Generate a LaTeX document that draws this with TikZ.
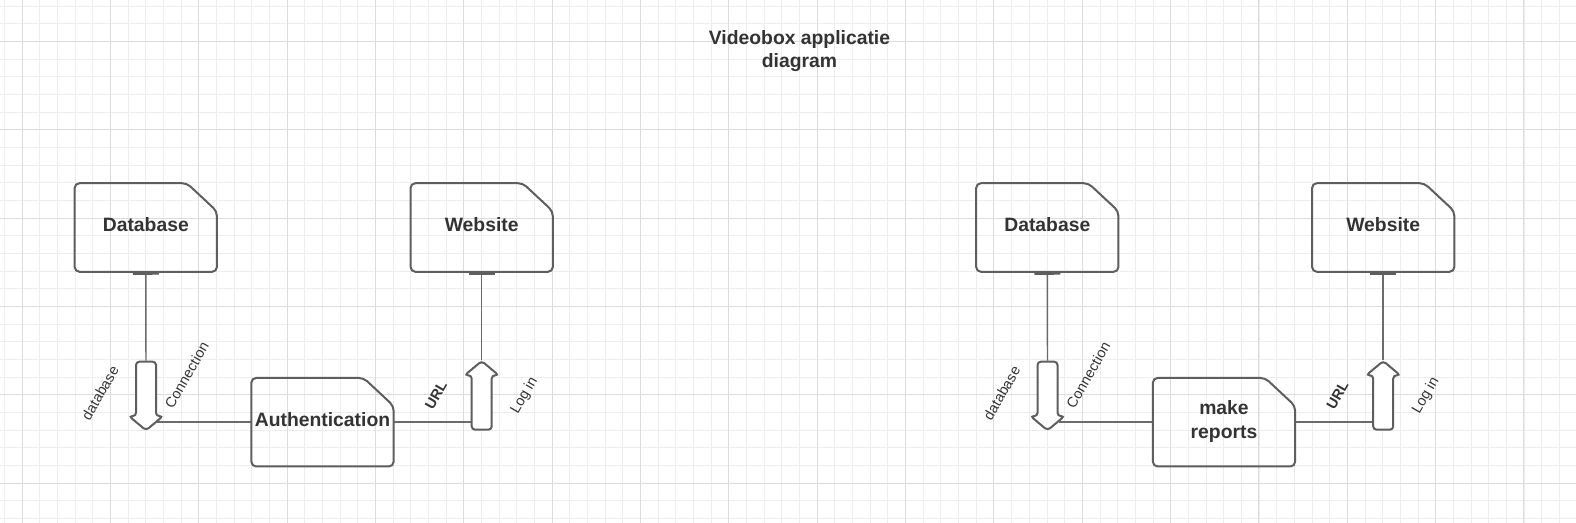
\documentclass[tikz,border=0pt]{standalone}
\usepackage{fontspec}
\setmainfont{Liberation Sans}
\usepackage{xcolor}
\usetikzlibrary{arrows.meta,shapes.arrows}
\definecolor{ink}{HTML}{333333}
\definecolor{edge}{HTML}{5E5E5E}
\definecolor{wirec}{HTML}{6B6B6B}
\definecolor{gridminor}{HTML}{EDEDED}
\definecolor{gridmajor}{HTML}{DCDCDC}
\pgfdeclarelayer{grid}
\pgfdeclarelayer{wires}
\pgfsetlayers{grid,wires,main}

\begin{document}
\begin{tikzpicture}[x=0.75pt,y=-0.75pt,>=Latex,
  page/.style={minimum width=106.25pt,minimum height=66pt,inner sep=0pt,align=center,text depth=4pt,text=ink,font=\fontsize{14.5}{17.5}\selectfont\bfseries,
    append after command={\pgfextra{\let\pagenode\tikzlastnode
      \draw[draw=edge,line width=1.5pt,rounded corners=3.5pt] (\pagenode.south west) -- (\pagenode.north west) -- ([xshift=-22.5pt]\pagenode.north east) -- ([yshift=-21pt]\pagenode.north east) -- (\pagenode.south east) -- cycle;}}},
  flow/.style={single arrow,draw=edge,fill=white,line width=1.5pt,rounded corners=2.5pt,inner sep=0pt,inner ysep=6.75pt,minimum height=51.5pt,single arrow head extend=5.25pt,single arrow tip angle=100},
  wire/.style={draw=wirec,line width=1.1pt},
  tag/.style={text=ink,font=\fontsize{10.8}{13}\selectfont,rotate=60},
  head/.style={text=ink,font=\fontsize{14.5}{17.5}\selectfont\bfseries,align=center}]
\useasboundingbox (0,0) rectangle (1576,523);
\begin{pgfonlayer}{grid}
\fill[white] (0,0) rectangle (1576,523);
\foreach \k in {0,...,88} \draw[gridminor,line width=0.75pt] ({4.63+17.667*\k},0) -- ({4.63+17.667*\k},523);
\foreach \k in {0,...,29} \draw[gridminor,line width=0.75pt] (0,{6.27+17.667*\k}) -- (1576,{6.27+17.667*\k});
\foreach \k in {0,...,17} \draw[gridmajor,line width=0.75pt] ({22.3+88.33*\k},0) -- ({22.3+88.33*\k},523);
\foreach \k in {0,...,5} \draw[gridmajor,line width=0.75pt] (0,{41.6+88.33*\k}) -- (1576,{41.6+88.33*\k});
\end{pgfonlayer}

\node[head] (title) at (799.5,51) {Videobox applicatie\\diagram};

% authentication
\node[page] (db1) at (145.8,227.5) {Database};
\node[page] (web1) at (481.7,227.5) {Website};
\node[page] (auth) at (322.5,422.2) {Authentication};
\node[flow,rotate=-90,anchor=tail] (dnA1) at (146,360.7) {};
\node[flow,rotate=90,anchor=tail] (upA1) at (481.7,430.7) {};
\begin{pgfonlayer}{wires}
\draw[wire,{Bar[width=19.5pt,line width=2.25pt,color=edge]}-] (db1.south) -- (dnA1.tail);
\draw[wire] (auth.west) -- (auth.west -| dnA1.north);
\draw[wire] (auth.east) -- (auth.east -| upA1.north);
\draw[wire,{Bar[width=19.5pt,line width=2.25pt,color=edge]}-] (web1.south) -- (upA1.tip);
\end{pgfonlayer}
\node[tag] (lbDb1) at (100,393) {database};
\node[tag] (lbCon1) at (186.7,375) {Connection};
\node[tag,font=\fontsize{10.8}{13}\selectfont\bfseries] (lbUrl1) at (436,395) {URL};
\node[tag] (lbLog1) at (524.5,396) {Log in};

% reports
\node[page] (db2) at (1047.3,227.5) {Database};
\node[page] (web2) at (1383.2,227.5) {Website};
\node[page] (rep) at (1224,422.2) {make\\reports};
\node[flow,rotate=-90,anchor=tail] (dnA2) at (1047.5,360.7) {};
\node[flow,rotate=90,anchor=tail] (upA2) at (1383.2,430.7) {};
\begin{pgfonlayer}{wires}
\draw[wire,{Bar[width=19.5pt,line width=2.25pt,color=edge]}-] (db2.south) -- (dnA2.tail);
\draw[wire] (rep.west) -- (rep.west -| dnA2.north);
\draw[wire] (rep.east) -- (rep.east -| upA2.north);
\draw[wire,{Bar[width=19.5pt,line width=2.25pt,color=edge]}-] (web2.south) -- (upA2.tip);
\end{pgfonlayer}
\node[tag] (lbDb2) at (1001.7,393) {database};
\node[tag] (lbCon2) at (1088.2,375) {Connection};
\node[tag,font=\fontsize{10.8}{13}\selectfont\bfseries] (lbUrl2) at (1337.5,395) {URL};
\node[tag] (lbLog2) at (1426,396) {Log in};
\end{tikzpicture}
\end{document}
